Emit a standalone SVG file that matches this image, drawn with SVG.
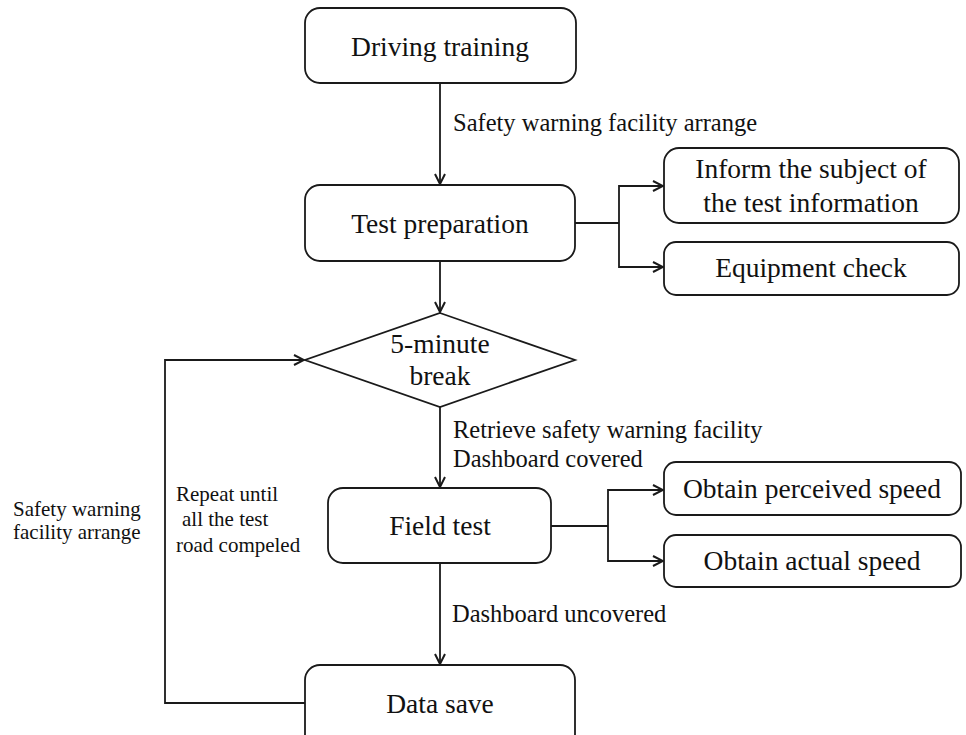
<svg xmlns="http://www.w3.org/2000/svg" width="966" height="735" viewBox="0 0 966 735">
<style>
.box{fill:#fff;stroke:#1a1a1a;stroke-width:1.8}
.ln{fill:none;stroke:#1a1a1a;stroke-width:1.8}
.nt{font-family:"Liberation Serif","Times New Roman",serif;font-size:27.5px;fill:#111;text-anchor:middle}
.el{font-family:"Liberation Serif","Times New Roman",serif;font-size:24.5px;fill:#111}
.sl{font-family:"Liberation Serif","Times New Roman",serif;font-size:21px;fill:#111}
</style>
<defs>
<marker id="arr" viewBox="0 0 12 12" refX="11" refY="6" markerWidth="12" markerHeight="12" markerUnits="userSpaceOnUse" orient="auto">
<path d="M1,1 L11,6 L1,11" fill="none" stroke="#1a1a1a" stroke-width="2"/>
</marker>
</defs>
<rect width="966" height="735" fill="#fff"/>
<g id="connectors">
<line class="ln" x1="440" y1="83" x2="440" y2="184" marker-end="url(#arr)"/>
<line class="ln" x1="440" y1="261" x2="440" y2="312" marker-end="url(#arr)"/>
<line class="ln" x1="440" y1="407" x2="440" y2="487" marker-end="url(#arr)"/>
<line class="ln" x1="440" y1="563" x2="440" y2="664" marker-end="url(#arr)"/>
<polyline class="ln" points="575,223 619,223"/>
<polyline class="ln" points="663,186 619,186 619,267 663,267" marker-end="url(#arr)"/>
<line class="ln" x1="619" y1="186" x2="663" y2="186" marker-end="url(#arr)"/>
<polyline class="ln" points="551,526 608,526"/>
<polyline class="ln" points="663,490 608,490 608,561 663,561" marker-end="url(#arr)"/>
<line class="ln" x1="608" y1="490" x2="663" y2="490" marker-end="url(#arr)"/>
<polyline class="ln" points="305,703 165,703 165,360 304,360" marker-end="url(#arr)"/>
<text class="el" x="453" y="131">Safety warning facility arrange</text>
<text class="el" x="453" y="438">Retrieve safety warning facility</text>
<text class="el" x="453" y="467">Dashboard covered</text>
<text class="el" x="452" y="622">Dashboard uncovered</text>
<text class="sl" x="13" y="516">Safety warning</text>
<text class="sl" x="13" y="539">facility arrange</text>
<text class="sl" x="176" y="501">Repeat until</text>
<text class="sl" x="182" y="526">all the test</text>
<text class="sl" x="176" y="552">road compeled</text>
</g>
<g id="driving-training">
<rect class="box" x="305" y="8" width="271" height="75" rx="15"/>
<text class="nt" x="440" y="56">Driving training</text>
</g>
<g id="test-preparation">
<rect class="box" x="305" y="185" width="270" height="76" rx="15"/>
<text class="nt" x="440" y="233">Test preparation</text>
</g>
<g id="inform">
<rect class="box" x="664" y="148" width="295" height="75" rx="15"/>
<text class="nt" x="811" y="178">Inform the subject of</text>
<text class="nt" x="811" y="212">the test information</text>
</g>
<g id="equipment-check">
<rect class="box" x="664" y="242" width="295" height="53" rx="12"/>
<text class="nt" x="811" y="277">Equipment check</text>
</g>
<g id="break">
<polygon class="box" points="440,313 575,360 440,407 305,360"/>
<text class="nt" x="440" y="353">5-minute</text>
<text class="nt" x="440" y="385">break</text>
</g>
<g id="field-test">
<rect class="box" x="328" y="488" width="223" height="75" rx="15"/>
<text class="nt" x="440" y="535">Field test</text>
</g>
<g id="perceived-speed">
<rect class="box" x="664" y="462" width="297" height="53" rx="12"/>
<text class="nt" x="812" y="498">Obtain perceived speed</text>
</g>
<g id="actual-speed">
<rect class="box" x="664" y="535" width="297" height="52" rx="12"/>
<text class="nt" x="812" y="570">Obtain actual speed</text>
</g>
<g id="data-save">
<rect class="box" x="305" y="665" width="270" height="90" rx="15"/>
<text class="nt" x="440" y="713">Data save</text>
</g>
</svg>
